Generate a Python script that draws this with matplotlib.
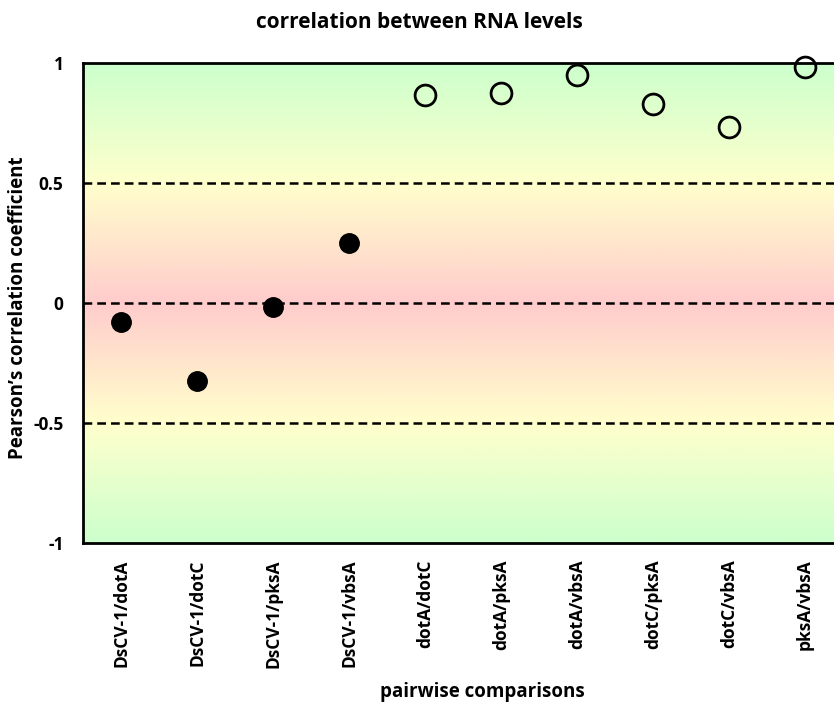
import numpy as np
import matplotlib
matplotlib.use('Agg')
import matplotlib.pyplot as plt
from matplotlib.colors import LinearSegmentedColormap

# data
pairs = ['DsCV-1/dotA', 'DsCV-1/dotC', 'DsCV-1/pksA', 'DsCV-1/vbsA',
         'dotA/dotC', 'dotA/pksA', 'dotA/vbsA', 'dotC/pksA', 'dotC/vbsA', 'pksA/vbsA']
r_values = [-0.079, -0.325, -0.017, 0.25, 0.867, 0.875, 0.95, 0.829, 0.733, 0.983]
filled = [True, True, True, True, False, False, False, False, False, False]
y_ticks = [-1, -0.5, 0, 0.5, 1]
y_ticklabels = ['-1', '-0.5', '0', '0.5', '1']
ref_lines = [-0.5, 0, 0.5]

plt.rcParams['font.family'] = ['Open Sans', 'DejaVu Sans']

fig = plt.figure(figsize=(8.34, 7.08), dpi=100)
ax = fig.add_axes([83/834, 165/708, 760/834, 480/708])

# background gradient green -> yellow -> pink -> yellow -> green
cmap = LinearSegmentedColormap.from_list('bg', [
    (0.0, '#ccffcc'), (0.25, '#ffffcc'), (0.5, '#ffcccc'),
    (0.75, '#ffffcc'), (1.0, '#ccffcc')])
grad = np.linspace(0, 1, 256).reshape(-1, 1)
ax.imshow(grad, aspect='auto', cmap=cmap, extent=[-0.5, 9.5, -1, 1],
          origin='lower', zorder=0)

for y in ref_lines:
    ax.axhline(y, color='black', lw=1.8, ls=(0, (3.5, 2)), zorder=1)

x = np.arange(len(pairs))
for xi, yi, f in zip(x, r_values, filled):
    if f:
        ax.plot(xi, yi, 'o', ms=14, color='black', zorder=3, clip_on=False)
    else:
        ax.plot(xi, yi, 'o', ms=15, mfc='none', mec='black', mew=2,
                zorder=3, clip_on=False)

ax.set_xlim(-0.5, 9.5)
ax.set_ylim(-1, 1)
ax.set_xticks(x)
ax.set_xticklabels(pairs, rotation=90, fontsize=12.5, fontweight='bold')
ax.set_yticks(y_ticks)
ax.set_yticklabels(y_ticklabels, fontsize=12.5, fontweight='bold')
ax.tick_params(length=0, pad=14)
ax.tick_params(axis='x', pad=12)
for s in ax.spines.values():
    s.set_linewidth(2)

ax.set_title('correlation between RNA levels', fontsize=15, fontweight='bold',
             pad=25, x=0.442)
ax.set_xlabel('pairwise comparisons', fontsize=13.5, fontweight='bold', labelpad=12)
ax.xaxis.set_label_coords(0.526, -0.29)
ax.set_ylabel("Pearson\u2019s correlation coefficient", fontsize=13.5, fontweight='bold')
ax.yaxis.set_label_coords(-0.072, 0.49)

plt.savefig('out.png', dpi=100)
